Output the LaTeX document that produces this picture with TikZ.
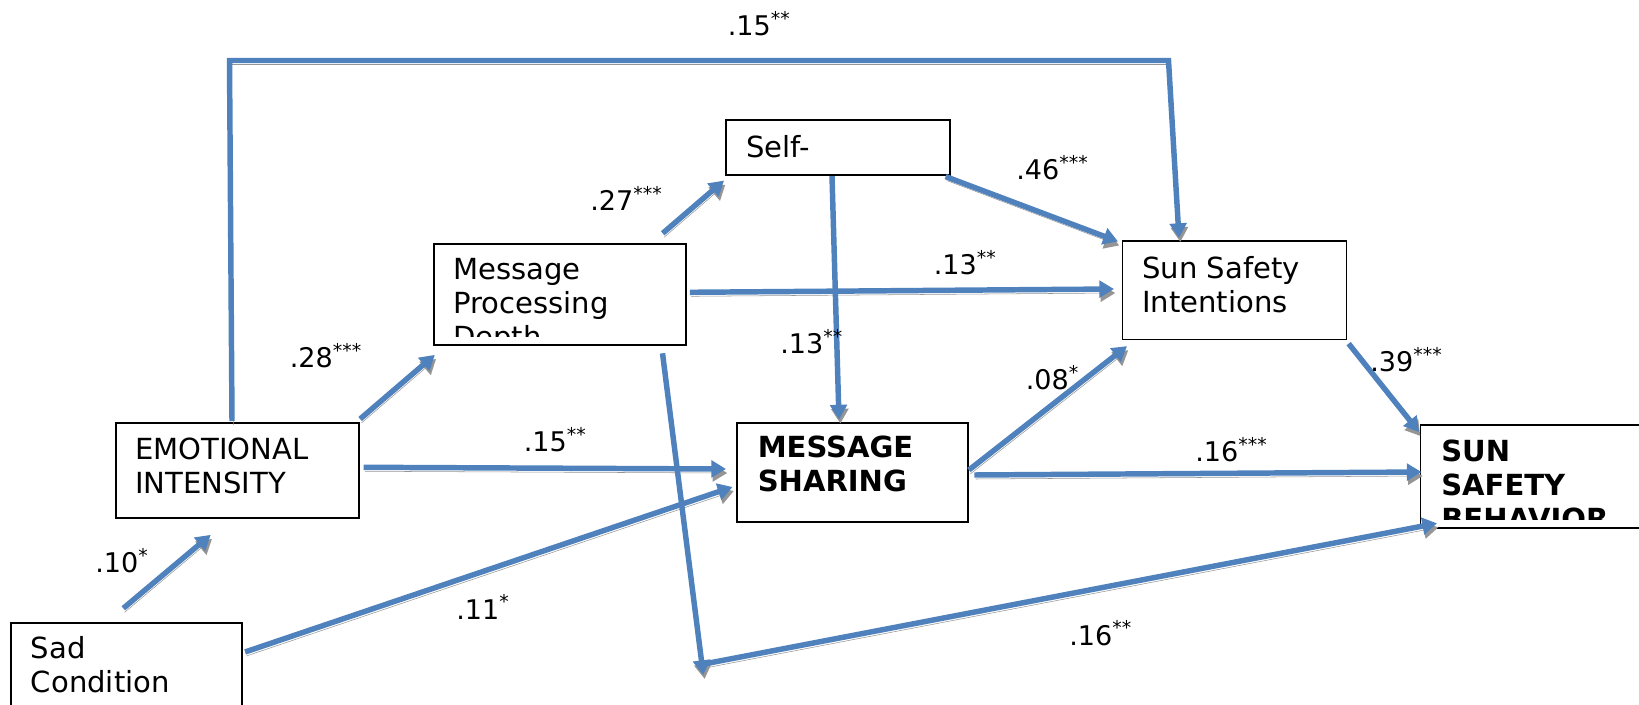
\documentclass[tikz,border=0pt]{standalone}
\usepackage{fontspec}
\setmainfont{DejaVu Sans}
\usetikzlibrary{arrows.meta,calc}
\definecolor{arrowblue}{HTML}{4F81BD}
\definecolor{shadowgray}{HTML}{959595}
\newcommand{\boxfont}{\fontsize{21.8}{25.5}\selectfont}
\newcommand{\coeffont}{\fontsize{20.3}{24}\selectfont}
\newcommand{\boxlines}[1]{\begin{tabular}[t]{@{}l@{}}#1\end{tabular}}
\newcommand{\pstars}[1]{\textsuperscript{#1}}
\begin{document}
\begin{tikzpicture}[x=0.75pt,y=-0.75pt,
  box/.style={draw=black, line width=1.2pt, anchor=north west, inner sep=0pt, rectangle},
  boxtext/.style={anchor=base west, inner sep=0pt, font=\boxfont},
  coef/.style={anchor=base west, inner sep=0pt, font=\coeffont},
  conn/.style={draw=arrowblue, line width=4.1pt, line join=miter,
    -{Triangle[length=11pt,width=12.5pt]},
    preaction={draw=shadowgray, transform canvas={xshift=1pt,yshift=-3pt}}},
]
\useasboundingbox (0,0) rectangle (1639,705);
\clip (0,0) rectangle (1639,705);

% boxes (sizes in pt = px * 0.75)
\node[box, minimum width=173.25pt, minimum height=75pt] (sad) at (10,622) {};
\node[box, minimum width=182.25pt, minimum height=71.6pt] (emo) at (115,422) {};
\node[box, minimum width=189pt, minimum height=75.75pt] (mpd) at (433,243.5) {};
\node[box, minimum width=168pt, minimum height=41.25pt] (self) at (725,119.5) {};
\node[box, minimum width=173.25pt, minimum height=74.25pt] (ms) at (736,422) {};
\node[box, minimum width=168pt, minimum height=73.9pt] (ssi) at (1121.5,240) {};
\node[box, minimum width=195pt, minimum height=76.9pt] (ssb) at (1419.5,424.5) {};

% box texts
\node[boxtext] (sadtext) at ($(sad.north west)+(20.7,36)$) {\boxlines{Sad\\Condition}};
\node[boxtext] (emotext) at ($(emo.north west)+(20,37.5)$) {\boxlines{EMOTIONAL\\INTENSITY}};
\begin{scope}
  \clip ($(mpd.north west)+(1,1)$) rectangle ($(mpd.south east)+(-1,-9.5)$);
  \node[boxtext] (mpdtext) at ($(mpd.north west)+(20,36.5)$) {\boxlines{Message\\Processing\\Depth}};
\end{scope}
\node[boxtext] (selftext) at ($(self.north west)+(21,38)$) {Self-};
\node[boxtext] (mstext) at ($(ms.north west)+(21.5,35.5)$) {\boxlines{\bfseries MESSAGE\\\bfseries SHARING}};
\node[boxtext] (ssitext) at ($(ssi.north west)+(20.5,38.5)$) {\boxlines{Sun Safety\\Intentions}};
\begin{scope}
  \clip ($(ssb.north west)+(1,1)$) rectangle ($(ssb.south east)+(-1,-9.5)$);
  \node[boxtext] (ssbtext) at ($(ssb.north west)+(21.5,37.5)$) {\boxlines{\bfseries SUN\\\bfseries SAFETY\\\bfseries BEHAVIOR}};
\end{scope}

% helper coordinates
\coordinate (c1) at (229.5,60.5);
\coordinate (c2) at (1168.5,60.5);
\coordinate (corner) at (703.3,675);
\coordinate (c3) at (706.5,663.5);

% connectors
\draw[conn] ($(emo.north west)+(117,-1)$) -- (c1) -- (c2) -- ($(ssi.north west)+(57.5,-2)$);
\draw[conn] ($(sad.north west)+(113.3,-13.7)$) -- ($(emo.south west)+(95.7,15.8)$);
\draw[conn] ($(emo.north east)+(0.5,-3)$) -- ($(mpd.south west)+(1.8,8.8)$);
\draw[conn] ($(emo.north east)+(4,45.3)$) -- ($(ms.north west)+(-10,47)$);
\draw[conn] ($(sad.north east)+(2.5,30)$) -- ($(ms.north west)+(-3.5,65)$);
\draw[conn] ($(mpd.north west)+(229.7,-10.2)$) -- ($(self.south west)+(-1,4.5)$);
\draw[conn] ($(mpd.north east)+(3.3,48.8)$) -- ($(ssi.north west)+(-7.5,49)$);
\draw[conn] ($(mpd.south west)+(229.5,7.2)$) -- (corner);
\draw[conn] (c3) -- ($(ssb.south west)+(17.5,-5.3)$);
\draw[conn] ($(self.south west)+(107,0)$) -- ($(ms.north west)+(103,-2.5)$);
\draw[conn] ($(self.south east)+(-5,0.5)$) -- ($(ssi.north west)+(-3.5,1.5)$);
\draw[conn] ($(ms.north east)+(0.3,48)$) -- ($(ssi.south west)+(5.5,6)$);
\draw[conn] ($(ms.north east)+(5.8,53)$) -- ($(ssb.north west)+(2,47.5)$);
\draw[conn] ($(ssi.south east)+(1.5,3.5)$) -- ($(ssb.north west)+(-0.5,7.5)$);

% coefficients
\node[coef] (l1) at (727.5,35.5) {.15\pstars{**}};
\node[coef] (l2) at (1016,179.5) {.46\pstars{***}};
\node[coef] (l3) at (590,210.5) {.27\pstars{***}};
\node[coef] (l4) at (933.5,275) {.13\pstars{**}};
\node[coef] (l5) at (289.5,368) {.28\pstars{***}};
\node[coef] (l6) at (780,354) {.13\pstars{**}};
\node[coef] (l7) at (1025.5,390) {.08\pstars{*}};
\node[coef] (l8) at (1370,372) {.39\pstars{***}};
\node[coef] (l9) at (523.5,451.5) {.15\pstars{**}};
\node[coef] (l10) at (1195,462) {.16\pstars{***}};
\node[coef] (l11) at (95,572.5) {.10\pstars{*}};
\node[coef] (l12) at (456,619) {.11\pstars{*}};
\node[coef] (l13) at (1069,645) {.16\pstars{**}};
\end{tikzpicture}
\end{document}
